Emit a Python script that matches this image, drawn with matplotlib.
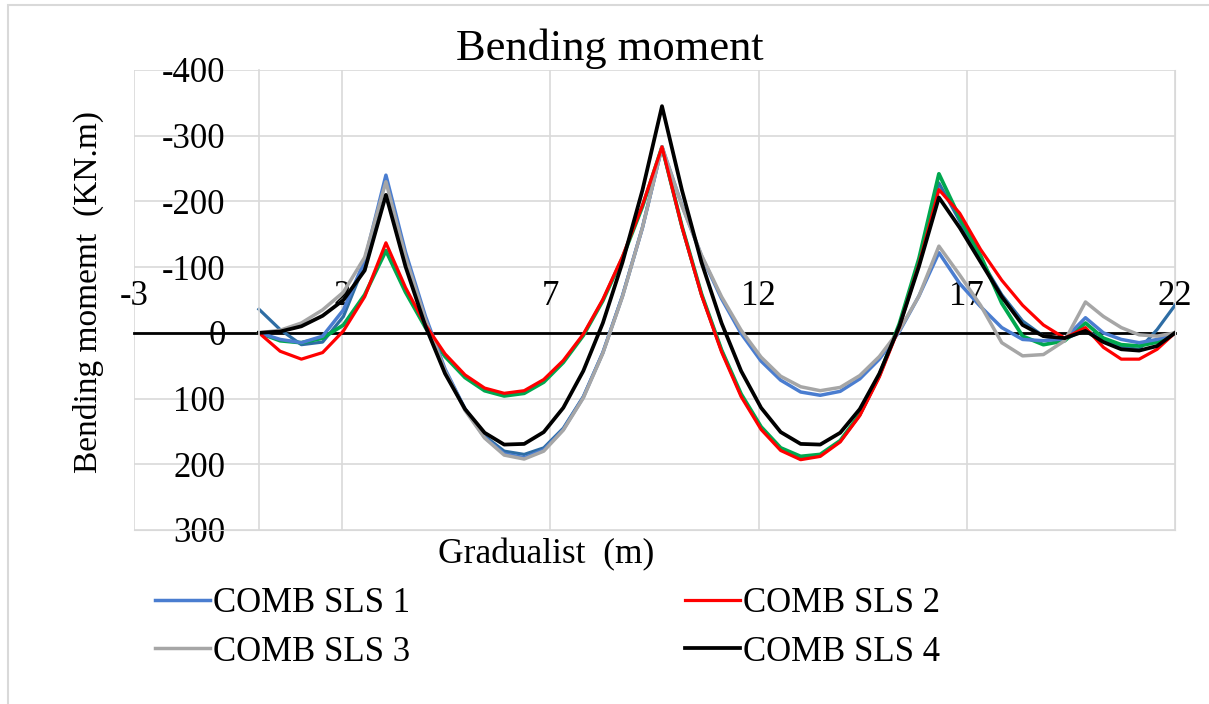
import matplotlib
matplotlib.use("Agg")
import matplotlib.pyplot as plt
from matplotlib.patches import Rectangle

plt.rcParams['font.family'] = ['Liberation Serif', 'DejaVu Serif']
plt.rcParams['axes.unicode_minus'] = False

# distance along the beam (m)
x = [0, 0.51, 1.02, 1.53, 2.03, 2.54, 3.05,
     3.52, 4.00, 4.47, 4.95, 5.42, 5.89, 6.37, 6.84, 7.31, 7.79, 8.26, 8.73, 9.21, 9.68,
     10.16, 10.63, 11.11, 11.58, 12.06, 12.53, 13.01, 13.48, 13.96, 14.43, 14.90, 15.38, 15.85, 16.33,
     16.83, 17.33, 17.84, 18.34, 18.84, 19.35, 19.85, 20.28, 20.71, 21.14, 21.57, 22.0]

# bending moment (kN.m), negative = hogging
sls1 = [0, 10, 15, 5, -35, -110, -240,
        -123, -25, 55, 116, 159, 184, 190, 178, 147, 98, 30, -56, -160, -283,
        -194, -117, -52, 1, 43, 72, 90, 95, 89, 70, 40, -2, -56, -122,
        -75, -40, -8, 10, 12, 9, -23, 0, 10, 15, 10, 0]
sls2 = [0, 28, 40, 30, -3, -55, -137,
        -69, -12, 32, 64, 84, 92, 88, 71, 42, 2, -51, -116, -194, -283,
        -161, -57, 29, 97, 147, 179, 193, 188, 166, 126, 67, -9, -104, -218,
        -182, -127, -80, -42, -12, 8, -8, 22, 40, 40, 25, 0]
sls3 = [0, -4, -15, -35, -62, -115, -230,
        -116, -20, 58, 118, 160, 186, 192, 180, 148, 99, 31, -55, -160, -283,
        -193, -118, -55, -4, 37, 66, 82, 88, 83, 65, 36, -4, -56, -132,
        -88, -42, 15, 35, 33, 12, -47, -25, -8, 3, 5, 0]
sls4 = [0, -2, -10, -26, -50, -95, -210,
        -101, -10, 62, 116, 152, 170, 169, 151, 114, 58, -15, -107, -217, -345,
        -217, -107, -15, 58, 114, 151, 169, 170, 152, 116, 62, -10, -101, -206,
        -160, -108, -55, -12, 5, 8, -3, 14, 25, 27, 20, 0]
sls5 = [0, 12, 15, 8, -12, -58, -125,
        -62, -8, 36, 68, 88, 96, 92, 75, 45, 4, -49, -114, -192, -283,
        -162, -59, 26, 93, 143, 175, 188, 185, 164, 124, 64, -14, -113, -242,
        -175, -118, -45, 5, 18, 12, -15, 8, 18, 20, 14, 0]
sls6 = [-36, -5, 18, 14, -25, -105, -235,
        -119, -22, 57, 116, 157, 180, 185, 175, 145, 97, 30, -56, -160, -283,
        -161, -58, 27, 95, 145, 177, 190, 186, 165, 125, 66, -11, -108, -228,
        -170, -112, -58, -18, 5, 10, -5, 12, 22, 25, -5, -42]

x_ticks = [-3, 2, 7, 12, 17, 22]
y_ticks = [-400, -300, -200, -100, 0, 100, 200, 300]

fig = plt.figure(figsize=(12.09, 7.04), dpi=100)
fig.patches.append(Rectangle((0.007, -0.01), 1.1, 1.003, transform=fig.transFigure,
                             fill=False, edgecolor='#D9D9D9', linewidth=1.5))
ax = fig.add_axes([134 / 1209, 1 - 530 / 704, 1041 / 1209, 460 / 704])

grid_c = '#D9D9D9'
ax.plot(x, sls6, color='#2E6DA4', lw=2.3)
ax.plot(x, sls5, color='#00A84F', lw=2.7)
ax.plot(x, sls1, color='#4A7DD0', lw=2.5, label='COMB SLS 1')
ax.plot(x, sls3, color='#A6A6A6', lw=2.5, label='COMB SLS 3')
ax.plot(x, sls2, color='#FF0000', lw=2.3, label='COMB SLS 2')
ax.plot(x, sls4, color='#000000', lw=2.7, label='COMB SLS 4')

ax.set_xlim(-3, 22)
ax.set_ylim(300, -400)
ax.set_xticks(x_ticks)
ax.set_yticks(y_ticks)
ax.grid(True, color=grid_c, lw=1.2)
ax.set_axisbelow(True)

# y axis crosses at x = 0, x axis at y = 0 (labels above the line)
ax.spines['left'].set_position(('data', 0))
ax.spines['left'].set_color(grid_c)
ax.spines['left'].set_linewidth(1.2)
ax.spines['top'].set_position(('data', 0))
ax.spines['top'].set_color('black')
ax.spines['top'].set_linewidth(2)
ax.spines['top'].set_zorder(1.5)
ax.spines['bottom'].set_color(grid_c)
ax.spines['right'].set_color(grid_c)
ax.xaxis.tick_top()
ax.tick_params(axis='x', length=0, pad=14, labelsize=25)
ax.tick_params(axis='y', length=0, pad=24, labelsize=25)

fig.text(610 / 1209, 1 - 49 / 704, 'Bending moment', ha='center', va='center', fontsize=32)
fig.text(546 / 1209, 1 - 555 / 704, 'Gradualist  (m)', ha='center', va='center', fontsize=25.5)
fig.text(88 / 1209, 1 - 292 / 704, 'Bending momemt  (KN.m)', ha='center', va='center',
         rotation=90, fontsize=24)

h, l = ax.get_legend_handles_labels()
fig.legend(h, l, ncol=2, loc='upper left', bbox_to_anchor=(155 / 1209, 1 - 587 / 704),
           frameon=False, fontsize=25, handlelength=1.58, handletextpad=0.1,
           columnspacing=7.9, labelspacing=0.45, borderpad=0, borderaxespad=0)

fig.savefig('out.png', dpi=100)
